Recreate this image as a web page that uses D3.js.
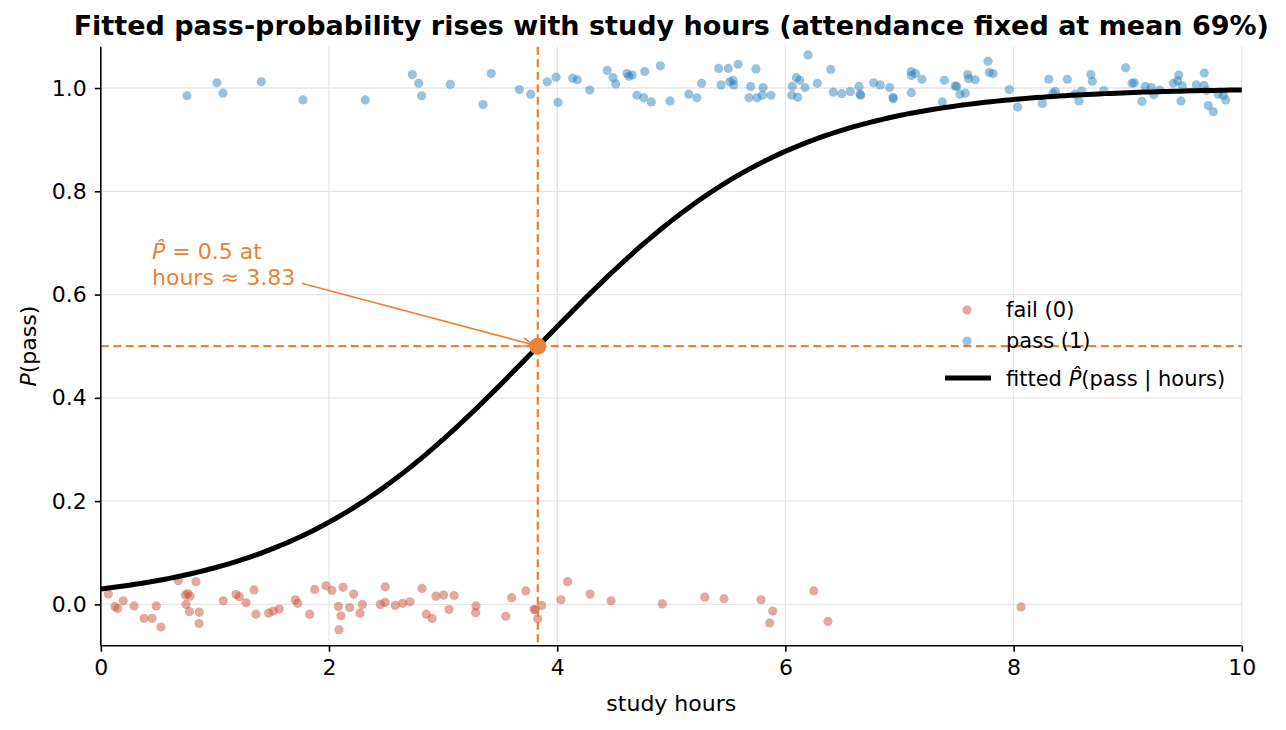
<!DOCTYPE html>
<html><head><meta charset="utf-8">
<script src="https://cdn.jsdelivr.net/npm/d3@7"></script>
<style>body{margin:0;background:#fff;} text{font-family:"DejaVu Sans",sans-serif;}</style>
</head><body>
<svg id="c" width="1286" height="730"></svg>
<script>
// ---- data ----
const passHours = [0.755,1.018,1.071,1.407,1.772,2.318,2.730,2.786,2.812,3.063,3.422,3.350,3.668,3.768,3.913,3.990,4.007,4.136,4.176,4.285,4.439,4.489,4.513,4.612,4.629,4.658,4.767,4.904,4.699,4.758,4.825,4.989,5.153,5.225,5.266,5.415,5.500,5.585,5.436,5.512,5.541,5.547,5.742,5.696,5.804,5.681,5.751,5.798,5.874,6.198,6.096,6.125,6.061,6.172,6.055,6.108,6.280,6.397,6.420,6.494,6.569,6.645,6.654,6.660,6.774,6.832,6.914,6.943,6.946,7.103,7.139,7.103,7.197,7.103,7.393,7.375,7.489,7.501,7.530,7.577,7.598,7.606,7.664,7.776,7.787,7.820,7.962,8.036,8.252,8.308,8.345,8.366,8.471,8.538,8.573,8.597,8.678,8.690,8.790,8.982,9.038,9.058,9.125,9.154,9.207,9.228,9.281,9.400,9.447,9.438,9.478,9.467,9.601,9.671,9.669,9.692,9.706,9.750,9.794,9.838,9.859];
const passJitter = [0.985,1.010,0.990,1.012,0.977,0.977,1.026,1.009,0.985,1.007,1.028,0.968,0.997,0.988,1.012,1.021,0.972,1.019,1.016,0.996,1.034,1.020,1.008,1.028,1.023,1.025,1.032,1.043,0.986,0.981,0.973,0.975,0.988,0.981,1.009,1.038,1.038,1.046,1.006,1.012,1.015,1.006,1.037,1.003,1.001,0.981,0.981,0.986,0.986,1.064,1.020,1.015,1.003,1.001,0.986,0.982,1.009,1.036,0.992,0.989,0.993,1.003,0.988,0.986,1.010,1.006,1.001,0.982,0.979,1.032,1.028,1.024,1.017,0.991,1.015,0.973,1.004,1.003,0.988,0.990,1.026,1.018,1.016,1.052,1.030,1.028,0.997,0.963,0.970,1.017,0.990,0.993,1.017,0.988,0.975,0.994,1.026,1.013,0.995,1.039,1.009,1.010,0.974,1.003,1.001,0.987,0.996,1.009,1.025,1.014,1.004,0.975,1.006,1.029,1.005,0.995,0.966,0.954,0.988,0.986,0.977];
const failHours = [0.066,0.124,0.148,0.197,0.291,0.379,0.449,0.486,0.528,0.679,0.834,0.741,0.762,0.782,0.747,0.776,0.863,0.861,1.074,1.185,1.214,1.273,1.343,1.360,1.471,1.512,1.564,1.705,1.726,1.831,1.875,1.974,2.026,2.082,2.105,2.088,2.123,2.181,2.216,2.272,2.292,2.450,2.491,2.493,2.581,2.646,2.710,2.815,2.853,2.903,2.938,3.005,3.052,3.096,3.288,3.286,3.549,3.601,3.724,3.797,3.808,3.829,3.864,4.033,4.092,4.288,4.472,4.921,5.293,5.462,5.786,5.889,5.862,6.248,6.373,8.065];
const failJitter = [0.020,-0.004,-0.008,0.007,-0.003,-0.027,-0.027,-0.003,-0.044,0.046,0.044,0.018,0.021,0.016,0.000,-0.014,-0.015,-0.037,0.007,0.019,0.015,0.003,0.028,-0.019,-0.017,-0.013,-0.009,0.009,0.002,-0.019,0.029,0.036,0.027,-0.004,-0.022,-0.049,0.033,-0.006,0.020,-0.017,0.000,0.000,0.004,0.034,-0.002,0.002,0.005,0.031,-0.019,-0.027,0.016,0.018,-0.010,0.017,-0.003,-0.016,-0.023,0.013,0.026,-0.010,-0.010,-0.028,-0.002,0.009,0.044,0.020,0.007,0.001,0.014,0.011,0.009,-0.013,-0.036,0.026,-0.033,-0.005];
// fitted logistic model coefficients (intercept, slope on hours)
const fitCoef = [-3.48, 0.908];
const xTicks = [0,2,4,6,8,10];
const yTicks = [0.0,0.2,0.4,0.6,0.8,1.0];
const threshold = 3.83;
const xDomain = [0,10], yDomain = [-0.08,1.08];

// ---- layout ----
const svg = d3.select("#c");
const L=100.8, R=1241.8, T=46.7, B=645.7;
const x = d3.scaleLinear().domain(xDomain).range([L,R]);
const y = d3.scaleLinear().domain(yDomain).range([B,T]);
const orange = "#e8833a";
const FT = 22, FL = 21;

// grid
svg.append("g").selectAll("line").data(xTicks).join("line")
  .attr("x1",d=>x(d)).attr("x2",d=>x(d)).attr("y1",T).attr("y2",B)
  .attr("stroke","#e6e6e6").attr("stroke-width",1.3);
svg.append("g").selectAll("line").data(yTicks).join("line")
  .attr("x1",L).attr("x2",R).attr("y1",d=>y(d)).attr("y2",d=>y(d))
  .attr("stroke","#e6e6e6").attr("stroke-width",1.3);

// scatter
const pts = svg.append("g");
pts.selectAll("circle.f").data(failHours.map((h,i)=>[h,failJitter[i]])).join("circle")
  .attr("class","f").attr("cx",d=>x(d[0])).attr("cy",d=>y(d[1])).attr("r",4.6)
  .attr("fill","#c8513f").attr("fill-opacity",0.5);
pts.selectAll("circle.p").data(passHours.map((h,i)=>[h,passJitter[i]])).join("circle")
  .attr("class","p").attr("cx",d=>x(d[0])).attr("cy",d=>y(d[1])).attr("r",4.6)
  .attr("fill","#1f77b4").attr("fill-opacity",0.45);

// threshold lines
svg.append("line").attr("x1",x(threshold)).attr("x2",x(threshold)).attr("y1",T).attr("y2",B)
  .attr("stroke",orange).attr("stroke-width",2.3).attr("stroke-dasharray","8,4.5");
svg.append("line").attr("x1",L).attr("x2",R).attr("y1",y(0.5)).attr("y2",y(0.5))
  .attr("stroke",orange).attr("stroke-width",2.3).attr("stroke-dasharray","8,4.5");

// fitted curve
const grid = d3.range(0,10.0001,0.05);
const pfit = h => 1/(1+Math.exp(-(fitCoef[0]+fitCoef[1]*h)));
svg.append("path").datum(grid)
  .attr("d", d3.line().x(d=>x(d)).y(d=>y(pfit(d))))
  .attr("fill","none").attr("stroke","#000").attr("stroke-width",5);

// threshold point
svg.append("circle").attr("cx",x(threshold)).attr("cy",y(0.5)).attr("r",8.5).attr("fill",orange);

// annotation
const ax0=301.7, ay0=283.3, ax1=x(threshold)-5, ay1=y(0.5)-1.5;
svg.append("line").attr("x1",ax0).attr("y1",ay0).attr("x2",ax1).attr("y2",ay1)
  .attr("stroke",orange).attr("stroke-width",1.6);
{
  const ang = Math.atan2(ay1-ay0, ax1-ax0), len=11, sp=0.4;
  const p = a=>[ax1-len*Math.cos(a), ay1-len*Math.sin(a)];
  const a1=p(ang+sp), a2=p(ang-sp);
  svg.append("path").attr("d",`M${a1[0]},${a1[1]}L${ax1},${ay1}L${a2[0]},${a2[1]}`)
    .attr("fill","none").attr("stroke",orange).attr("stroke-width",1.6);
}
const ann = svg.append("text").attr("x",152).attr("y",259).attr("fill",orange).attr("font-size",FT);
ann.append("tspan").attr("font-style","italic").text("P\u0302");
ann.append("tspan").text(" = 0.5 at");
svg.append("text").attr("x",152).attr("y",285).attr("fill",orange).attr("font-size",FT).text("hours \u2248 3.83");

// axes
const gx = svg.append("g").attr("transform",`translate(0,${B})`)
  .call(d3.axisBottom(x).tickValues(xTicks).tickFormat(d3.format("d")).tickSize(6).tickPadding(8));
const gy = svg.append("g").attr("transform",`translate(${L},0)`)
  .call(d3.axisLeft(y).tickValues(yTicks).tickFormat(d3.format(".1f")).tickSize(6).tickPadding(8));
[gx,gy].forEach(g=>{
  g.select(".domain").attr("stroke","#000").attr("stroke-width",1.6);
  g.selectAll(".tick line").attr("stroke","#000").attr("stroke-width",1.6);
  g.selectAll(".tick text").attr("font-size",FT).attr("font-family","DejaVu Sans").attr("fill","#000");
});
gx.select(".domain").attr("d",`M${L},0H${R}`);
gy.select(".domain").attr("d",`M0,${B}V${T}`);

// axis labels
svg.append("text").attr("x",(L+R)/2).attr("y",711).attr("text-anchor","middle").attr("font-size",FT).text("study hours");
const yl = svg.append("text").attr("transform",`translate(36,${(T+B)/2}) rotate(-90)`).attr("text-anchor","middle").attr("font-size",FT);
yl.append("tspan").attr("font-style","italic").text("P");
yl.append("tspan").text("(pass)");

// title
svg.append("text").attr("x",(L+R)/2).attr("y",35).attr("text-anchor","middle")
  .attr("font-size",27).attr("font-weight","bold").text("Fitted pass-probability rises with study hours (attendance fixed at mean 69%)");

// legend
const lg = svg.append("g");
lg.append("circle").attr("cx",967).attr("cy",310).attr("r",4.6).attr("fill","#c8513f").attr("fill-opacity",0.5);
lg.append("circle").attr("cx",967).attr("cy",341).attr("r",4.6).attr("fill","#1f77b4").attr("fill-opacity",0.45);
lg.append("line").attr("x1",945).attr("x2",991).attr("y1",378).attr("y2",378).attr("stroke","#000").attr("stroke-width",5);
lg.append("text").attr("x",1006).attr("y",317).attr("font-size",FL).text("fail (0)");
lg.append("text").attr("x",1006).attr("y",348).attr("font-size",FL).text("pass (1)");
const lt = lg.append("text").attr("x",1006).attr("y",386).attr("font-size",FL);
lt.append("tspan").text("fitted ");
lt.append("tspan").attr("font-style","italic").text("P\u0302");
lt.append("tspan").text("(pass | hours)");
</script>
</body></html>
